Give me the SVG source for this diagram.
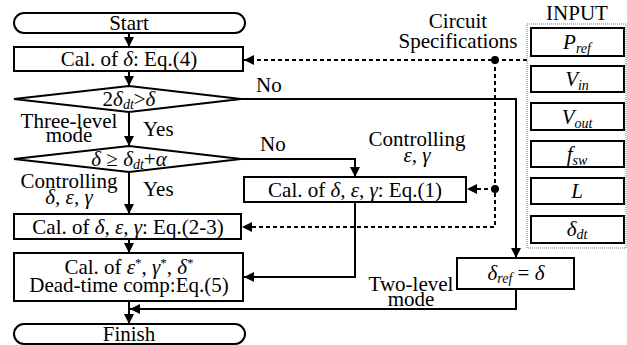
<svg xmlns="http://www.w3.org/2000/svg" width="627" height="345" viewBox="0 0 627 345" font-family="'Liberation Serif', 'DejaVu Serif', serif">
  <style>
    text { font-family: 'Liberation Serif', 'DejaVu Serif', serif; font-size: 21px; fill: #000; font-weight: normal; }
    .c { text-anchor: middle; }
    .i { font-style: italic; }
    .sub { font-size: 14px; font-style: italic; }
    .box { fill: #fff; stroke: #000; stroke-width: 2; }
    .ln { fill: none; stroke: #000; stroke-width: 2; }
    .dash { fill: none; stroke: #000; stroke-width: 2; stroke-dasharray: 4 3; }
    .frame { fill: none; stroke: #777; stroke-width: 1; stroke-dasharray: 1 1; }
  </style>
  <defs>
    <marker id="arr" viewBox="0 0 10 10" refX="10" refY="5" markerWidth="10" markerHeight="10" markerUnits="userSpaceOnUse" orient="auto">
      <path d="M0,0 L10,5 L0,10 z" fill="#000"/>
    </marker>
  </defs>

  <!-- connectors -->
  <g id="connectors">
    <line class="ln" x1="129" y1="33" x2="129" y2="47" marker-end="url(#arr)"/>
    <line class="ln" x1="129" y1="71" x2="129" y2="86" marker-end="url(#arr)"/>
    <line class="ln" x1="129" y1="112" x2="129" y2="146" marker-end="url(#arr)"/>
    <line class="ln" x1="129" y1="172" x2="129" y2="214" marker-end="url(#arr)"/>
    <line class="ln" x1="129" y1="239" x2="129" y2="253" marker-end="url(#arr)"/>
    <line class="ln" x1="129" y1="301" x2="129" y2="324" marker-end="url(#arr)"/>
    <!-- two-level branch -->
    <polyline class="ln" points="241,99 516,99 516,258" marker-end="url(#arr)"/>
    <polyline class="ln" points="516,289 516,309 130,309" marker-end="url(#arr)"/>
    <!-- second decision, No branch -->
    <polyline class="ln" points="241,159 355,159 355,177" marker-end="url(#arr)"/>
    <polyline class="ln" points="355,202 355,277 244,277" marker-end="url(#arr)"/>
    <!-- circuit specification feeds -->
    <line class="dash" x1="527" y1="60" x2="244" y2="60" marker-end="url(#arr)"/>
    <polyline class="dash" points="495,60 495,227 242,227" marker-end="url(#arr)"/>
    <line class="dash" x1="495" y1="189" x2="467" y2="189" marker-end="url(#arr)"/>
    <circle cx="495" cy="60" r="4" fill="#000"/>
    <circle cx="495" cy="189" r="4" fill="#000"/>
  </g>

  <g id="start">
    <rect class="box" x="14" y="13" width="231" height="20" rx="10"/>
    <text class="c" x="129" y="30">Start</text>
  </g>

  <g id="calc-delta">
    <rect class="box" x="14" y="47" width="229" height="24"/>
    <text class="c" x="129" y="66">Cal. of <tspan class="i">δ</tspan>: Eq.(4)</text>
  </g>

  <g id="decision-1">
    <polygon class="box" points="14,99 129,86 241,99 129,112"/>
    <text class="c" x="129" y="106">2<tspan class="i">δ</tspan><tspan class="sub" dy="3">dt</tspan><tspan dy="-3">&gt;</tspan><tspan class="i">δ</tspan></text>
  </g>

  <g id="decision-2">
    <polygon class="box" points="14,159 129,146 241,159 129,172"/>
    <text class="c" x="129" y="166"><tspan class="i">δ</tspan> ≥ <tspan class="i">δ</tspan><tspan class="sub" dy="3">dt</tspan><tspan dy="-3">+</tspan><tspan class="i">α</tspan></text>
  </g>

  <g id="calc-eq23">
    <rect class="box" x="14" y="214" width="227" height="25"/>
    <text class="c" x="128" y="234">Cal. of <tspan class="i">δ, ε, γ</tspan>: Eq.(2-3)</text>
  </g>

  <g id="calc-eq5">
    <rect class="box" x="14" y="253" width="229" height="48"/>
    <text class="c" x="129" y="274">Cal. of <tspan class="i">ε</tspan><tspan font-size="13" dy="-7">*</tspan><tspan dy="7">, </tspan><tspan class="i">γ</tspan><tspan font-size="13" dy="-7">*</tspan><tspan dy="7">, </tspan><tspan class="i">δ</tspan><tspan font-size="13" dy="-7">*</tspan></text>
    <text class="c" x="129" y="292">Dead-time comp:Eq.(5)</text>
  </g>

  <g id="finish">
    <rect class="box" x="14" y="324" width="231" height="20" rx="10"/>
    <text class="c" x="129" y="341">Finish</text>
  </g>

  <g id="calc-eq1">
    <rect class="box" x="244" y="177" width="222" height="25"/>
    <text class="c" x="355" y="197">Cal. of <tspan class="i">δ, ε, γ</tspan>: Eq.(1)</text>
  </g>

  <g id="delta-ref">
    <rect class="box" x="457" y="258" width="117" height="31"/>
    <text class="c" x="516" y="280"><tspan class="i">δ</tspan><tspan class="sub" dy="3">ref</tspan><tspan dy="-3"> = </tspan><tspan class="i">δ</tspan></text>
  </g>

  <g id="input">
    <rect class="frame" x="527" y="24" width="99" height="224"/>
    <text class="c" x="577" y="20">INPUT</text>
    <rect class="box" x="531" y="28" width="93" height="28"/>
    <text class="c" x="577" y="49"><tspan class="i">P</tspan><tspan class="sub" dy="4">ref</tspan></text>
    <rect class="box" x="531" y="66" width="93" height="26"/>
    <text class="c" x="577" y="86"><tspan class="i">V</tspan><tspan class="sub" dy="4">in</tspan></text>
    <rect class="box" x="531" y="103" width="93" height="27"/>
    <text class="c" x="577" y="124"><tspan class="i">V</tspan><tspan class="sub" dy="4">out</tspan></text>
    <rect class="box" x="531" y="141" width="93" height="26"/>
    <text class="c" x="577" y="161"><tspan class="i">f</tspan><tspan class="sub" dy="4">sw</tspan></text>
    <rect class="box" x="531" y="178" width="93" height="26"/>
    <text class="c i" x="577" y="198">L</text>
    <rect class="box" x="531" y="216" width="93" height="27"/>
    <text class="c" x="577" y="236"><tspan class="i">δ</tspan><tspan class="sub" dy="3">dt</tspan></text>
  </g>

  <g id="labels">
    <text x="256" y="92">No</text>
    <text x="260" y="151">No</text>
    <text x="143" y="136">Yes</text>
    <text x="143" y="196">Yes</text>
    <text class="c" x="69" y="128">Three-level</text>
    <text class="c" x="69" y="142">mode</text>
    <text class="c" x="69" y="188">Controlling</text>
    <text class="c" x="69" y="204"><tspan class="i">δ, ε, γ</tspan></text>
    <text class="c" x="458" y="28">Circuit</text>
    <text class="c" x="458" y="48">Specifications</text>
    <text class="c" x="417" y="146">Controlling</text>
    <text class="c" x="417" y="162"><tspan class="i">ε, γ</tspan></text>
    <text class="c" x="411" y="291">Two-level</text>
    <text class="c" x="411" y="306">mode</text>
  </g>
</svg>
